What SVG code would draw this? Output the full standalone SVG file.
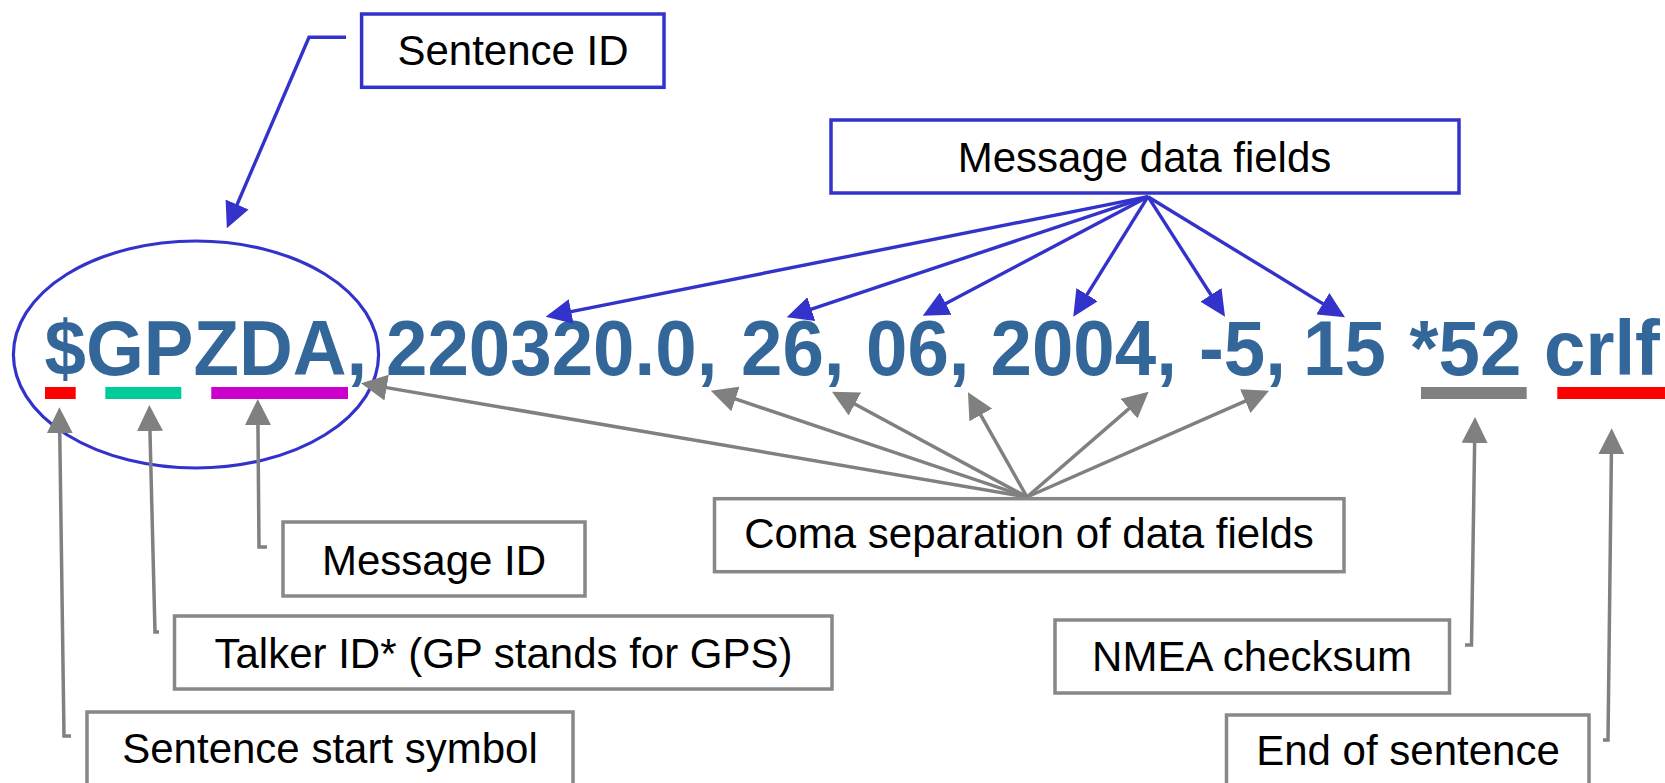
<svg xmlns="http://www.w3.org/2000/svg" width="1665" height="783" viewBox="0 0 1665 783">
<style>
.lbl{font-family:"Liberation Sans",Arial,sans-serif;font-size:42px;fill:#000;text-anchor:middle}
.main{font-family:"Liberation Sans",Arial,sans-serif;font-size:77.4px;font-weight:bold;fill:#336699}
.bbox{fill:#fff;stroke:#3333CC;stroke-width:3.5}
.gbox{fill:#fff;stroke:#888888;stroke-width:3.5}
.bl{fill:none;stroke:#3333CC;stroke-width:3.4;marker-end:url(#ab)}
.gl{fill:none;stroke:#808080;stroke-width:3.5;marker-end:url(#ag)}
</style>
<defs>
<marker id="ab" markerUnits="userSpaceOnUse" markerWidth="26" markerHeight="25" refX="18" refY="12.5" orient="auto"><path d="M0,0 L26,12.5 L0,25 Z" fill="#3333CC"/></marker>
<marker id="ag" markerUnits="userSpaceOnUse" markerWidth="26" markerHeight="26" refX="18" refY="13" orient="auto"><path d="M0,0 L26,13 L0,26 Z" fill="#808080"/></marker>
</defs>
<rect width="1665" height="783" fill="#fff"/>

<g id="sentence-ellipse">
<ellipse cx="196" cy="354.5" rx="182.6" ry="113.5" fill="none" stroke="#3333CC" stroke-width="3.2"/>
</g>

<g id="nmea-sentence">
<text class="main" y="375" transform="scale(0.9625,1)"><tspan x="46.23">$GPZDA,</tspan><tspan x="401.04">220320.0,</tspan><tspan x="769.87">26,</tspan><tspan x="899.74">06,</tspan><tspan x="1029.09">2004,</tspan><tspan x="1245.71">-5,</tspan><tspan x="1353.77">15</tspan><tspan x="1464.42">*52</tspan><tspan x="1604.16">crlf</tspan></text>
</g>

<g id="underlines">
<rect x="45" y="387" width="30.7" height="12" fill="#FF0000"/>
<rect x="105.3" y="387" width="76" height="12" fill="#00CC99"/>
<rect x="211.3" y="387" width="136.7" height="12" fill="#CC00CC"/>
<rect x="1421" y="387" width="105.7" height="12" fill="#808080"/>
<rect x="1557.3" y="387" width="108" height="12" fill="#FF0000"/>
</g>

<g id="connectors">
<polyline class="bl" points="346,37.3 309,37.3 230,221"/>
<line class="bl" x1="1148" y1="196.7" x2="553.5" y2="315.1"/>
<line class="bl" x1="1148" y1="196.7" x2="794.3" y2="314.8"/>
<line class="bl" x1="1148" y1="196.7" x2="929.8" y2="312"/>
<line class="bl" x1="1148" y1="196.7" x2="1077.5" y2="309.9"/>
<line class="bl" x1="1148" y1="196.7" x2="1220.7" y2="310"/>
<line class="bl" x1="1148" y1="196.7" x2="1338.2" y2="313.1"/>
<line class="gl" x1="1027" y1="497" x2="368.9" y2="384.6"/>
<line class="gl" x1="1027" y1="497" x2="718.4" y2="393.2"/>
<line class="gl" x1="1027" y1="497" x2="839" y2="395.5"/>
<line class="gl" x1="1027" y1="497" x2="971.9" y2="399.3"/>
<line class="gl" x1="1027" y1="497" x2="1142.6" y2="396.9"/>
<line class="gl" x1="1027" y1="497" x2="1261.7" y2="393.9"/>
<polyline class="gl" points="71,736 64,736 59.5,415.3"/>
<polyline class="gl" points="159,632 155,632 149.5,413"/>
<polyline class="gl" points="267,547 259,547 257.8,407"/>
<polyline class="gl" points="1465,645 1471.5,645 1474.9,425"/>
<polyline class="gl" points="1603,740 1608,740 1611.6,436.3"/>
</g>

<g id="sentence-id">
<rect class="bbox" x="361.6" y="14" width="302.4" height="73.3"/>
<text class="lbl" x="513" y="65">Sentence ID</text>
</g>
<g id="message-data-fields">
<rect class="bbox" x="831" y="120" width="628" height="73"/>
<text class="lbl" x="1144.5" y="171.5">Message data fields</text>
</g>
<g id="message-id">
<rect class="gbox" x="283" y="522" width="302" height="74"/>
<text class="lbl" x="434" y="575">Message ID</text>
</g>
<g id="talker-id">
<rect class="gbox" x="174.5" y="616" width="657.5" height="73"/>
<text class="lbl" x="503.5" y="668">Talker ID* (GP stands for GPS)</text>
</g>
<g id="sentence-start">
<rect class="gbox" x="87" y="712" width="486" height="80"/>
<text class="lbl" x="330" y="763.3">Sentence start symbol</text>
</g>
<g id="coma-separation">
<rect class="gbox" x="714.5" y="498.7" width="629.5" height="73"/>
<text class="lbl" x="1029" y="548.3">Coma separation of data fields</text>
</g>
<g id="nmea-checksum">
<rect class="gbox" x="1055" y="620" width="394.5" height="73"/>
<text class="lbl" x="1252" y="670.7">NMEA checksum</text>
</g>
<g id="end-of-sentence">
<rect class="gbox" x="1226.5" y="715" width="362.5" height="80"/>
<text class="lbl" x="1408" y="765">End of sentence</text>
</g>
</svg>
